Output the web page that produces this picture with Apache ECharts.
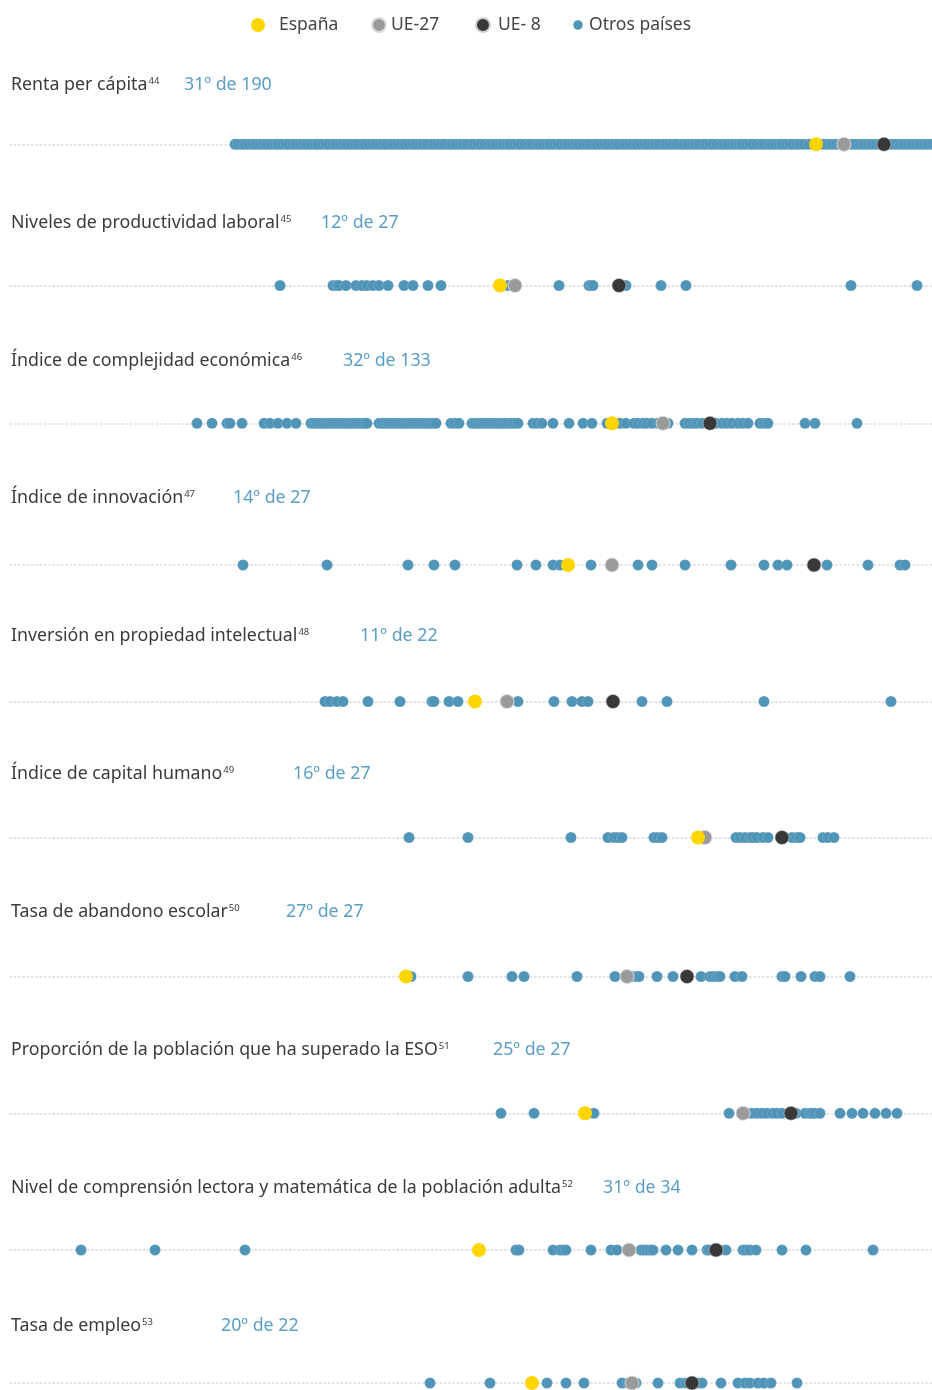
<!DOCTYPE html>
<html>
<head>
<meta charset="utf-8">
<script src="https://cdn.jsdelivr.net/npm/echarts@6/dist/echarts.min.js"></script>
<style>
html,body{margin:0;padding:0;background:#fff;}
#c{width:932px;height:1390px;}
</style>
</head>
<body>
<div id="c"></div>
<script>
// ---------- DATA ----------
const titles = [
  'Renta per cápita',
  'Niveles de productividad laboral',
  'Índice de complejidad económica',
  'Índice de innovación',
  'Inversión en propiedad intelectual',
  'Índice de capital humano',
  'Tasa de abandono escolar',
  'Proporción de la población que ha superado la ESO',
  'Nivel de comprensión lectora y matemática de la población adulta',
  'Tasa de empleo'
];
const notes = ['44','45','46','47','48','49','50','51','52','53'];
const ranks = ['31º de 190','12º de 27','32º de 133','14º de 27','11º de 22','16º de 27','27º de 27','25º de 27','31º de 34','20º de 22'];

const espana = [80.6, 49.0, 60.2, 55.8, 46.5, 68.8, 39.6, 57.5, 46.9, 52.2];
const ue27   = [83.4, 50.5, 65.3, 60.2, 49.7, 69.5, 61.7, 73.3, 61.9, 62.2];
const ue8    = [87.4, 60.9, 70.0, 80.4, 60.3, 77.2, 67.7, 78.1, 70.6, 68.2];

const otrosRenta = [
  22.5,22.8,23.2,23.5,23.9,24.3,24.6,25.0,25.4,25.7,
  26.1,26.5,26.8,27.2,27.6,27.9,28.3,28.6,29.0,29.4,
  29.7,30.1,30.5,30.8,31.2,31.6,31.9,32.3,32.6,33.0,
  33.4,33.7,34.1,34.5,34.8,35.2,35.5,35.9,36.3,36.6,
  37.0,37.4,37.7,38.1,38.4,38.8,39.2,39.5,39.9,40.3,
  40.6,41.0,41.3,41.7,42.1,42.4,42.8,43.2,43.5,43.9,
  44.2,44.6,45.0,45.3,45.7,46.1,46.4,46.8,47.1,47.5,
  47.9,48.2,48.6,49.0,49.3,49.7,50.0,50.4,50.8,51.1,
  51.5,51.9,52.2,52.6,52.9,53.3,53.7,54.0,54.4,54.8,
  55.1,55.5,55.8,56.2,56.6,56.9,57.3,57.7,58.0,58.4,
  58.7,59.1,59.5,59.8,60.2,60.6,60.9,61.3,61.6,62.0,
  62.4,62.7,63.1,63.5,63.8,64.2,64.5,64.9,65.3,65.6,
  66.0,66.4,66.7,67.1,67.4,67.8,68.2,68.5,68.9,69.3,
  69.6,70.0,70.3,70.7,71.1,71.4,71.8,72.2,72.5,72.9,
  73.2,73.6,74.0,74.3,74.7,75.1,75.4,75.8,76.1,76.5,
  76.9,77.2,77.6,78.0,78.3,78.7,79.0,79.4,79.9,
  81.0,81.4,81.8,82.2,82.6,83.0,83.4,83.8,84.2,84.6,
  85.0,85.4,85.8,86.2,86.6,87.0,87.4,87.8,88.2,88.6,
  89.0,89.4,89.8,90.2,90.6,91.0,91.4,91.8,92.2,92.6
];
const otrosProductividad = [27.0,32.3,32.7,32.9,33.6,34.6,35.2,35.7,36.3,36.9,37.8,39.4,40.3,41.8,43.1,49.8,54.9,57.9,58.1,58.3,60.9,61.6,65.1,67.6,84.1,90.7];
const otrosComplejidad = [
  18.7,20.2,21.7,22.0,23.2,25.4,26.0,26.8,27.7,28.6,
  30.1,30.4,30.7,31.0,31.3,31.6,31.9,32.2,32.5,32.8,33.1,33.4,33.7,34.0,34.3,34.6,34.9,35.2,35.5,35.7,
  36.9,37.2,37.5,37.8,38.1,38.4,38.7,39.0,39.3,39.6,39.9,40.2,40.5,40.8,41.1,41.4,41.7,42.0,42.3,42.6,
  44.1,44.5,44.9,
  46.2,46.5,46.8,47.1,47.4,47.7,48.0,48.3,48.6,48.9,49.2,49.5,49.8,50.1,50.4,50.8,
  52.3,52.7,53.2,54.3,55.9,57.3,58.2,59.7,
  61.0,61.6,62.4,62.8,63.3,63.7,64.2,64.8,65.8,67.5,67.9,68.3,68.7,69.2,70.0,70.6,
  71.2,71.7,72.2,72.8,73.3,73.8,75.0,75.4,75.8,79.5,80.5,84.7
];
const otrosInnovacion = [23.3,31.7,39.8,42.4,44.5,50.7,52.6,54.3,55.0,58.1,60.2,62.8,64.2,67.5,72.1,75.4,76.8,77.7,80.4,81.7,85.8,89.0,89.5];
const otrosPropiedad = [31.5,32.0,32.7,33.3,35.8,39.0,42.2,42.4,43.9,44.8,49.7,50.8,54.4,56.2,57.2,57.8,60.3,63.2,65.7,75.4,88.1];
const otrosCapital = [39.9,45.8,56.1,59.8,60.4,60.8,61.2,64.4,64.8,65.2,69.5,72.6,73.0,73.5,74.0,74.3,74.7,75.3,75.8,77.2,78.2,78.7,79.0,81.3,81.8,82.4];
const otrosAbandono = [40.1,45.8,50.2,51.4,56.7,60.5,61.7,62.2,62.7,62.9,64.7,66.3,67.7,69.1,70.0,70.3,70.7,71.0,72.5,73.2,77.2,77.5,79.1,80.5,81.0,84.0];
const otrosESO = [49.1,52.4,58.4,71.9,73.5,73.7,74.2,74.7,75.2,75.7,76.3,76.7,77.2,78.0,78.6,79.5,80.0,80.2,80.5,81.0,83.0,84.2,85.3,86.5,87.6,88.7];
const otrosComprension = [7.1,14.5,23.5,50.6,50.9,54.3,55.0,55.3,55.6,58.1,60.1,60.7,61.9,63.1,63.4,63.7,64.0,64.3,65.6,66.8,68.2,69.7,69.9,70.6,71.0,71.6,73.3,73.6,74.0,74.6,77.2,79.6,86.3];
const otrosEmpleo = [42.0,48.0,53.7,55.6,57.4,61.2,61.8,62.6,64.8,67.0,67.6,68.8,69.2,71.1,72.8,73.5,74.0,74.8,75.4,76.1,78.7];

const otros = [otrosRenta, otrosProductividad, otrosComplejidad, otrosInnovacion, otrosPropiedad,
               otrosCapital, otrosAbandono, otrosESO, otrosComprension, otrosEmpleo];

// ---------- LAYOUT ----------
const titleY = [85, 223, 361, 498, 636, 774, 912, 1050, 1188, 1326];
const lineY  = [144.3, 285.5, 423.3, 565, 701.5, 837.5, 976.5, 1113.3, 1250, 1386];
const rankX  = [184, 321, 343, 233, 360, 293, 286, 493, 603, 221];
const AXIS_MAX = 92.2;

const FONT = '"Noto Sans", "Open Sans", sans-serif';
const C_BLUE = '#5095b8', C_YEL = '#ffd500', C_GREY = '#9a9a9a', C_DARK = '#383838';
const TXT = '#3b3b3b', RANKC = '#5a9ec6';

const grids = [], xAxes = [], yAxes = [], series = [], titleComps = [];
const pts = arr => arr.map(v => [v, 0]);

for (let i = 0; i < titles.length; i++) {
  grids.push({left: 10, right: 0, top: lineY[i] - 10, height: 20, containLabel: false});
  xAxes.push({
    type: 'value', gridIndex: i, min: 0, max: AXIS_MAX,
    axisLine: {show: true, onZero: true, lineStyle: {color: '#dadada', width: 1.5, type: [1.5, 2.8]}},
    axisTick: {show: false}, axisLabel: {show: false}, splitLine: {show: false}
  });
  yAxes.push({type: 'value', gridIndex: i, min: -1, max: 1, show: false});
  series.push({
    name: 'Otros países', type: 'scatter', xAxisIndex: i, yAxisIndex: i, data: pts(otros[i]),
    symbolSize: 11, clip: false,
    itemStyle: {color: C_BLUE, borderColor: 'rgba(255,255,255,0.25)', borderWidth: 0.6, opacity: 1}
  });
  series.push({
    name: 'UE-27', type: 'scatter', xAxisIndex: i, yAxisIndex: i, data: pts([ue27[i]]),
    symbolSize: 14, itemStyle: {color: C_GREY, borderColor: '#dcdcdc', borderWidth: 1, opacity: 1}
  });
  series.push({
    name: 'UE- 8', type: 'scatter', xAxisIndex: i, yAxisIndex: i, data: pts([ue8[i]]),
    symbolSize: 14, itemStyle: {color: C_DARK, borderColor: '#cfcfcf', borderWidth: 0.6, opacity: 1}
  });
  series.push({
    name: 'España', type: 'scatter', xAxisIndex: i, yAxisIndex: i, data: pts([espana[i]]),
    symbolSize: 14, itemStyle: {color: C_YEL, opacity: 1}
  });
  titleComps.push({
    text: '{t|' + titles[i] + '}{s|' + notes[i] + '}',
    left: 11, top: titleY[i] - 11, padding: 0,
    textStyle: {
      fontWeight: 'normal',
      rich: {
        t: {fontSize: 17.8, color: TXT, fontFamily: FONT, lineHeight: 22, fontWeight: 'normal'},
        s: {fontSize: 9.5, color: TXT, fontFamily: FONT, verticalAlign: 'top', padding: [2, 0, 0, 1], fontWeight: 'normal'}
      }
    }
  });
  titleComps.push({
    text: ranks[i], left: rankX[i], top: titleY[i] - 11, padding: 0,
    textStyle: {fontSize: 17.8, color: RANKC, fontFamily: FONT, lineHeight: 22, fontWeight: 'normal'}
  });
}

const legText = {fontSize: 17.5, color: '#444', fontFamily: FONT};
const option = {
  animation: false,
  backgroundColor: '#fff',
  title: titleComps,
  legend: [
    {data: ['España'], left: 251, top: 16, padding: 0, icon: 'circle', itemWidth: 14, itemHeight: 14, selectedMode: false,
     textStyle: Object.assign({padding: [0, 0, 0, 9]}, legText)},
    {data: ['UE-27'], left: 371, top: 16, padding: 0, icon: 'circle', itemWidth: 14, itemHeight: 14, selectedMode: false,
     textStyle: Object.assign({padding: [0, 0, 0, 0]}, legText)},
    {data: ['UE- 8'], left: 475, top: 16, padding: 0, icon: 'circle', itemWidth: 14, itemHeight: 14, selectedMode: false,
     textStyle: Object.assign({padding: [0, 0, 0, 3]}, legText)},
    {data: ['Otros países'], left: 572, top: 16, padding: 0, icon: 'circle', itemWidth: 10, itemHeight: 10, selectedMode: false,
     textStyle: Object.assign({padding: [0, 0, 0, 1]}, legText)}
  ],
  grid: grids,
  xAxis: xAxes,
  yAxis: yAxes,
  series: series
};

const chart = echarts.init(document.getElementById('c'), null, {renderer: 'canvas'});
chart.setOption(option);
</script>
</body>
</html>
